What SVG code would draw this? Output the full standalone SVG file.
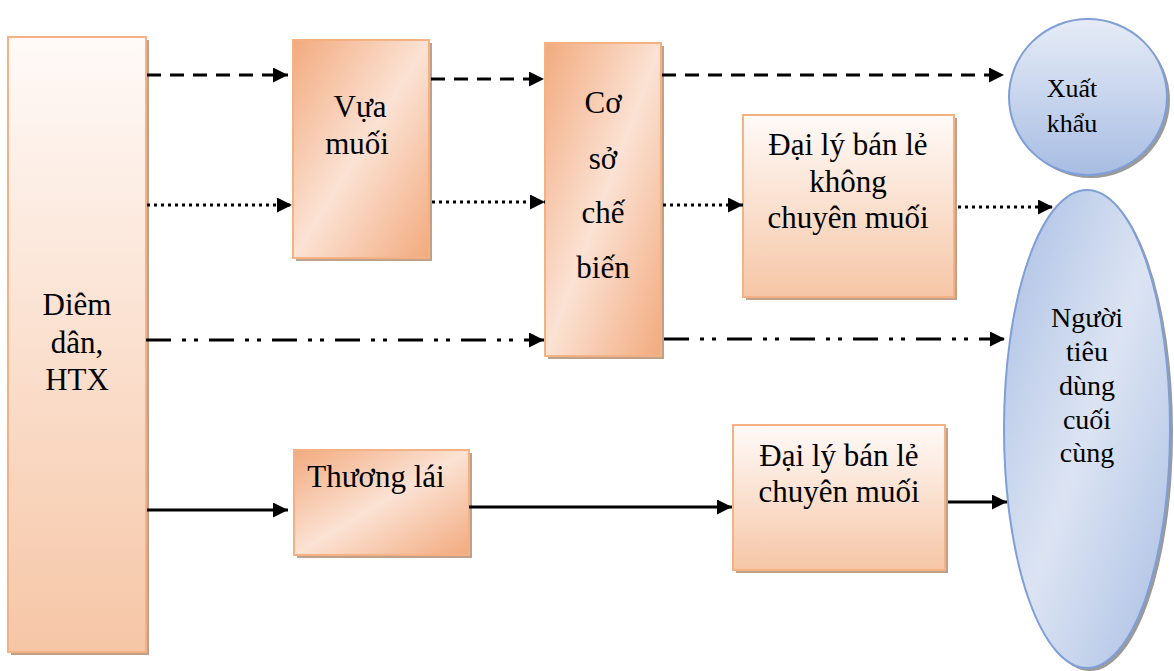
<svg xmlns="http://www.w3.org/2000/svg" width="1174" height="671" viewBox="0 0 1174 671">
<defs>
<linearGradient id="gDiag" x1="0" y1="0" x2="1" y2="1">
<stop offset="0" stop-color="#F2AA7E"/>
<stop offset="0.5" stop-color="#FBE2D4"/>
<stop offset="1" stop-color="#F2AA7E"/>
</linearGradient>
<linearGradient id="gVert" x1="0" y1="0" x2="0" y2="1">
<stop offset="0" stop-color="#FFFAF8"/>
<stop offset="1" stop-color="#F6C6A6"/>
</linearGradient>
<linearGradient id="gBlueV" x1="0" y1="0" x2="0" y2="1">
<stop offset="0" stop-color="#E6ECF7"/>
<stop offset="1" stop-color="#A8BDE3"/>
</linearGradient>
<linearGradient id="gBlueD" x1="0" y1="0" x2="1" y2="1">
<stop offset="0" stop-color="#A9BEE3"/>
<stop offset="0.5" stop-color="#DCE4F3"/>
<stop offset="1" stop-color="#A9BEE3"/>
</linearGradient>
<marker id="ah" viewBox="0 0 10 10" refX="10" refY="5" markerWidth="15" markerHeight="15" markerUnits="userSpaceOnUse" orient="auto">
<path d="M0,0 L10,5 L0,10 Z" fill="#000"/>
</marker>
<style>
.box{stroke:#F4B183;stroke-width:2}
.sh{fill:#BFA08A}
.esh{fill:#9A9A9A}
.ell{stroke:#7F9FD6;stroke-width:2}
.t{font-family:"Liberation Serif","Times New Roman",serif;font-size:31px;fill:#000;text-anchor:middle}
.ts{font-size:26px}
.tm{font-size:28px}
.c{fill:none;stroke:#000;stroke-width:3}
.dash{stroke-dasharray:14 9}
.dot{stroke-dasharray:3 4;stroke-width:3}
.dd{stroke-dasharray:25 11 4 8 4 11}
</style>
</defs>

<g id="diem-dan">
<rect class="sh" x="11" y="40" width="138" height="615"/>
<rect class="box" x="8" y="37" width="138" height="615" fill="url(#gVert)"/>
<text class="t" x="77" y="315">Diêm</text>
<text class="t" x="77" y="353">dân,</text>
<text class="t" x="77" y="390">HTX</text>
</g>

<g id="vua-muoi">
<rect class="sh" x="296" y="43" width="136" height="218"/>
<rect class="box" x="293" y="40" width="136" height="218" fill="url(#gDiag)"/>
<text class="t" x="360" y="117">Vựa</text>
<text class="t" x="357" y="154">muối</text>
</g>

<g id="co-so-che-bien">
<rect class="sh" x="548" y="46" width="116" height="313"/>
<rect class="box" x="545" y="43" width="116" height="313" fill="url(#gDiag)"/>
<text class="t" x="603" y="113">Cơ</text>
<text class="t" x="603" y="169">sở</text>
<text class="t" x="603" y="223">chế</text>
<text class="t" x="603" y="278">biến</text>
</g>

<g id="dai-ly-khong-chuyen">
<rect class="sh" x="746" y="118" width="211" height="182"/>
<rect class="box" x="743" y="115" width="211" height="182" fill="url(#gVert)"/>
<text class="t" x="848" y="155">Đại lý bán lẻ</text>
<text class="t" x="848" y="192">không</text>
<text class="t" x="848" y="228">chuyên muối</text>
</g>

<g id="thuong-lai">
<rect class="sh" x="297" y="453" width="175" height="105"/>
<rect class="box" x="294" y="450" width="175" height="105" fill="url(#gDiag)"/>
<text class="t" x="376" y="487">Thương lái</text>
</g>

<g id="dai-ly-chuyen">
<rect class="sh" x="736" y="428" width="212" height="145"/>
<rect class="box" x="733" y="425" width="212" height="145" fill="url(#gVert)"/>
<text class="t" x="839" y="466">Đại lý bán lẻ</text>
<text class="t" x="839" y="502">chuyên muối</text>
</g>

<g id="xuat-khau">
<ellipse class="esh" cx="1091" cy="100" rx="79" ry="78"/>
<ellipse class="ell" cx="1088" cy="97" rx="79" ry="78" fill="url(#gBlueV)"/>
<text class="t ts" x="1072" y="97">Xuất</text>
<text class="t ts" x="1072" y="132">khẩu</text>
</g>

<g id="nguoi-tieu-dung">
<ellipse class="esh" cx="1090" cy="432" rx="83" ry="239"/>
<ellipse class="ell" cx="1087" cy="429" rx="83" ry="239" fill="url(#gBlueD)"/>
<text class="t tm" x="1087" y="327">Người</text>
<text class="t tm" x="1087" y="361">tiêu</text>
<text class="t tm" x="1087" y="395">dùng</text>
<text class="t tm" x="1087" y="429">cuối</text>
<text class="t tm" x="1087" y="462">cùng</text>
</g>

<g id="connectors">
<line class="c dash" x1="147" y1="75" x2="288" y2="75" marker-end="url(#ah)"/>
<line class="c dash" x1="431" y1="79" x2="544" y2="79" marker-end="url(#ah)"/>
<line class="c dash" x1="662" y1="75" x2="1004" y2="75" marker-end="url(#ah)"/>
<line class="c dot" x1="147" y1="205" x2="292" y2="205" marker-end="url(#ah)"/>
<line class="c dot" x1="432" y1="202" x2="545" y2="202" marker-end="url(#ah)"/>
<line class="c dot" x1="663" y1="205" x2="743" y2="205" marker-end="url(#ah)"/>
<line class="c dot" x1="958" y1="207" x2="1053" y2="207" marker-end="url(#ah)"/>
<line class="c dd" x1="146" y1="340" x2="544" y2="340" marker-end="url(#ah)"/>
<line class="c dd" x1="664" y1="339" x2="1005" y2="339" marker-end="url(#ah)"/>
<line class="c" x1="147" y1="510" x2="288" y2="510" marker-end="url(#ah)"/>
<line class="c" x1="469" y1="507" x2="732" y2="507" marker-end="url(#ah)"/>
<line class="c" x1="948" y1="502" x2="1007" y2="502" marker-end="url(#ah)"/>
</g>
</svg>
